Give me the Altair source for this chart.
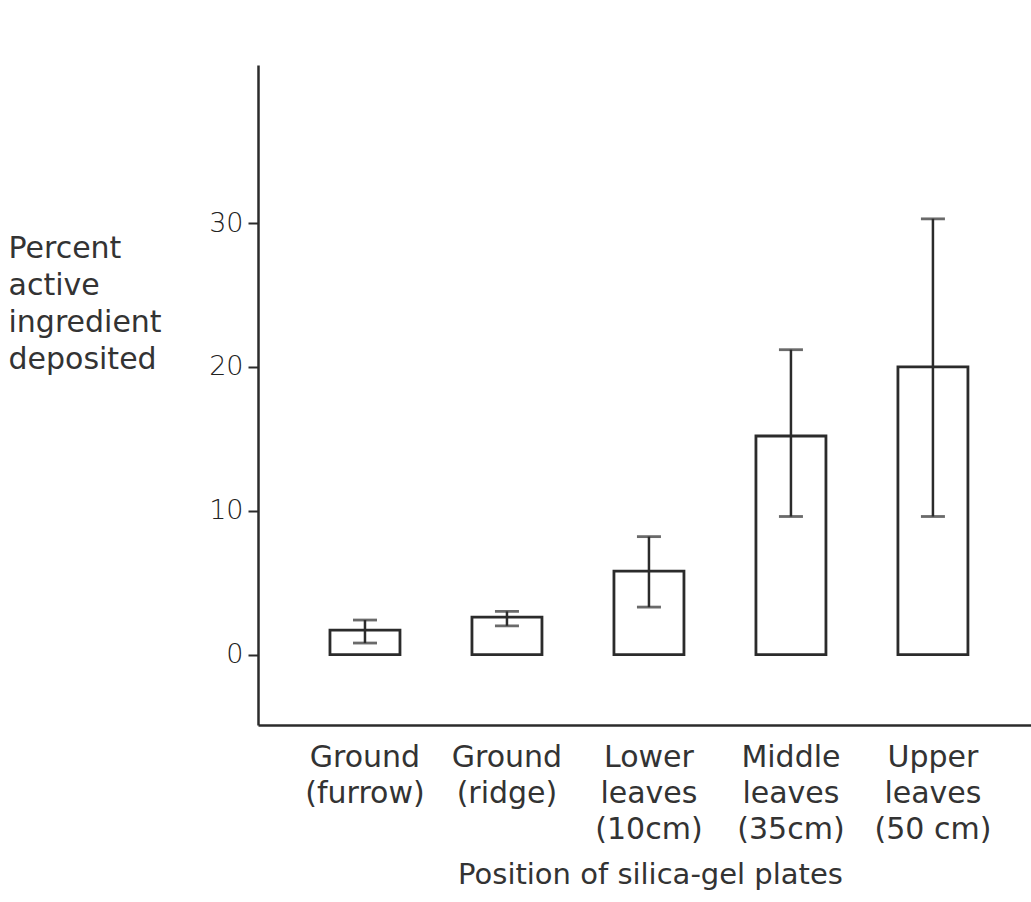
import altair as alt
import pandas as pd

# Deposit of active ingredient on silica-gel plates at each position
positions = [
    "Ground|(furrow)",
    "Ground|(ridge)",
    "Lower|leaves|(10cm)",
    "Middle|leaves|(35cm)",
    "Upper|leaves|(50 cm)",
]
mean_pct = [1.7, 2.6, 5.8, 15.2, 20.0]
low_pct = [0.8, 2.0, 3.3, 9.6, 9.6]
high_pct = [2.4, 3.0, 8.2, 21.2, 30.3]

df = pd.DataFrame({
    "position": positions,
    "mean": mean_pct,
    "low": low_pct,
    "high": high_pct,
})

INK = "#2b2b2b"
TEXT = "#333333"
FONT = "DejaVu Sans"

x_scale = alt.Scale(paddingInner=0.507, paddingOuter=0.4755, align=0.533)
y_scale = alt.Scale(domain=[-4.9, 41], nice=False, zero=False)

x_enc = alt.X(
    "position:N",
    sort=positions,
    scale=x_scale,
    title="Position of silica-gel plates",
    axis=alt.Axis(
        labelExpr="split(datum.label, '|')",
        labelAngle=0,
        labelFontSize=30,
        labelFont=FONT,
        labelColor=TEXT,
        labelLineHeight=36,
        labelPadding=17,
        ticks=False,
        grid=False,
        domainColor=INK,
        domainWidth=2.5,
        titleFontSize=29,
        titleFont=FONT,
        titleFontWeight="normal",
        titleColor=TEXT,
        titleBaseline="alphabetic",
        titleY=158,
        titleX=392,
    ),
)

bars = alt.Chart(df).mark_bar(
    fill="white", stroke=INK, strokeWidth=2.8
).encode(
    x=x_enc,
    y=alt.Y(
        "mean:Q",
        scale=y_scale,
        title=["Percent", "active", "ingredient", "deposited"],
        axis=alt.Axis(
            values=[0, 10, 20, 30],
            grid=False,
            tickSize=10,
            tickWidth=2,
            tickColor=INK,
            domainColor=INK,
            domainWidth=2.5,
            labelFontSize=27,
            labelFont=FONT,
            labelFontWeight=300,
            labelColor="#222222",
            labelPadding=5,
            titleAngle=0,
            titleAlign="left",
            titleBaseline="alphabetic",
            titleX=-250,
            titleY=192,
            titleFontSize=30,
            titleFont=FONT,
            titleFontWeight="normal",
            titleColor=TEXT,
            titleLineHeight=37,
        ),
    ),
)

whiskers = alt.Chart(df).mark_rule(color=INK, strokeWidth=2.5).encode(
    x=alt.X("position:N", sort=positions),
    y="low:Q",
    y2="high:Q",
)

caps_low = alt.Chart(df).mark_tick(
    color=INK, thickness=2.8, size=24, orient="horizontal"
).encode(x=alt.X("position:N", sort=positions), y="low:Q")

caps_high = alt.Chart(df).mark_tick(
    color=INK, thickness=2.8, size=24, orient="horizontal"
).encode(x=alt.X("position:N", sort=positions), y="high:Q")

chart = (
    alt.layer(bars, whiskers, caps_low, caps_high)
    .properties(
        width=773,
        height=660,
        autosize=alt.AutoSizeParams(type="none"),
        padding={"left": 258, "top": 65, "right": 0, "bottom": 177},
        view=alt.ViewBackground(strokeOpacity=0, strokeWidth=0),
    )
    .configure_view(strokeOpacity=0, strokeWidth=0)
    .configure_axis(grid=False)
    .configure(background="white")
)

chart.save("out.html", embed_options={"renderer": "svg", "actions": False})
